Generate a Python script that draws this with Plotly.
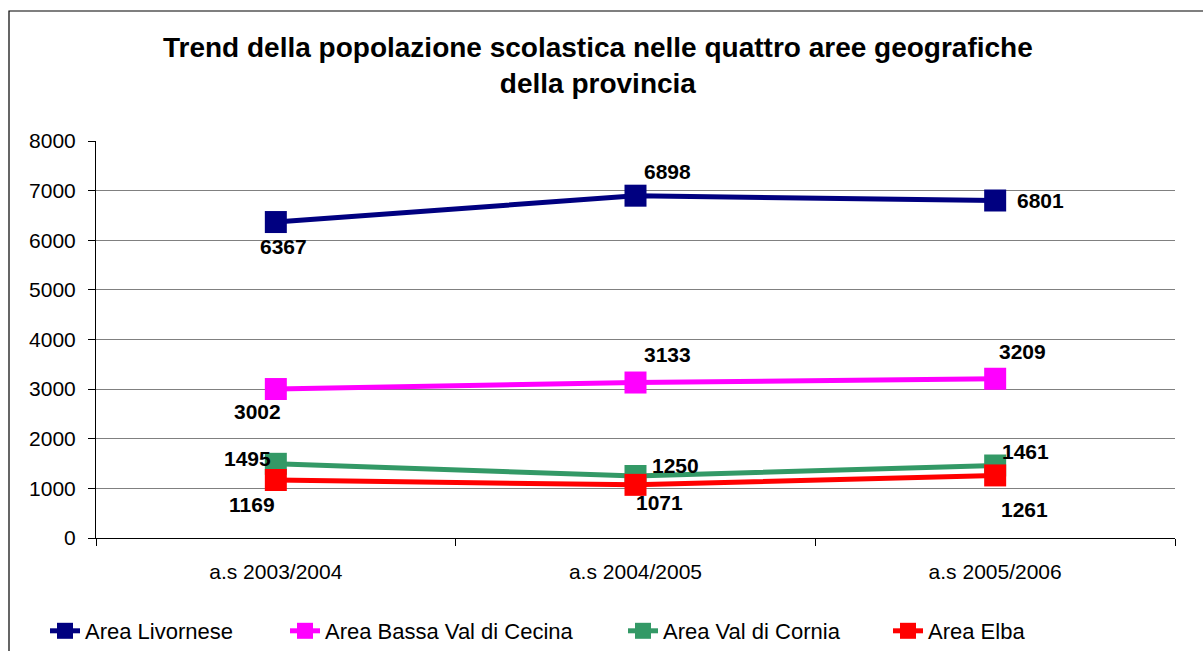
import plotly.graph_objects as go

categories = ["a.s 2003/2004", "a.s 2004/2005", "a.s 2005/2006"]
series_names = ["Area Livornese", "Area Bassa Val di Cecina", "Area Val di Cornia", "Area Elba"]
livornese = [6367, 6898, 6801]
bassa_val_cecina = [3002, 3133, 3209]
val_cornia = [1495, 1250, 1461]
elba = [1169, 1071, 1261]
y_ticks = [0, 1000, 2000, 3000, 4000, 5000, 6000, 7000, 8000]

series_values = [livornese, bassa_val_cecina, val_cornia, elba]
colors = ["#000080", "#FF00FF", "#339966", "#FF0000"]

# label offsets (px) per series per point
offsets = [
    [(8, -24), (32, 24), (45, 0)],
    [(-18, -22), (32, 28), (27, 27)],
    [(-28, 5), (40, 10), (30, 14)],
    [(-24, -25), (24, -18), (29, -34)],
]
# left positions (px) of each legend entry
legend_x_px = [45, 285, 623, 888]

FONT = "Liberation Sans, Arial, sans-serif"
W, H = 1203, 651

fig = go.Figure()
legend_ids = ["legend", "legend2", "legend3", "legend4"]
for name, vals, col, lid in zip(series_names, series_values, colors, legend_ids):
    fig.add_trace(go.Scatter(
        x=categories, y=vals, name=name, mode="lines+markers",
        line=dict(color=col, width=5),
        marker=dict(symbol="square", size=22, color=col),
        legend=lid,
    ))

annotations = []
for vals, offs in zip(series_values, offsets):
    for cat, v, (dx, dy) in zip(categories, vals, offs):
        annotations.append(dict(
            x=cat, y=v, xref="x", yref="y", text=f"<b>{v}</b>",
            showarrow=False, xshift=dx, yshift=dy,
            font=dict(family=FONT, size=21, color="black"),
        ))

legend_common = dict(
    orientation="h", xanchor="left", xref="container",
    y=(H - 631) / H, yanchor="middle", yref="container",
    font=dict(family=FONT, size=22, color="black"),
    bgcolor="rgba(0,0,0,0)",
)
legends = {}
for lid, lx in zip(legend_ids, legend_x_px):
    legends[lid] = dict(legend_common, x=lx / W)

fig.update_layout(
    width=W, height=H,
    paper_bgcolor="white", plot_bgcolor="white",
    margin=dict(l=96, r=28, t=141, b=113),
    title=dict(
        text="<b>Trend della popolazione scolastica nelle quattro aree geografiche<br>della provincia</b>",
        x=0.497, xanchor="center", y=(H - 57) / H, yanchor="middle",
        font=dict(family=FONT, size=28, color="black"),
    ),
    font=dict(family=FONT, size=21, color="black"),
    showlegend=True,
    annotations=annotations,
    shapes=[dict(type="rect", xref="paper", yref="paper",
                 x0=(9 - 96) / 1079, x1=(1215 - 96) / 1079,
                 y0=(538 - 670) / 397, y1=(538 - 11) / 397,
                 line=dict(color="black", width=1.2), fillcolor="rgba(0,0,0,0)", layer="below")],
    **legends,
)

fig.update_xaxes(
    type="category", tickson="boundaries", ticks="outside", ticklen=7,
    tickcolor="black", showline=True, linecolor="black", linewidth=1,
    showgrid=False, tickfont=dict(family=FONT, size=21, color="black"),
    range=[-0.5, 2.5], ticklabelstandoff=15,
)
fig.update_yaxes(
    range=[0, 8000], tickvals=y_ticks, ticks="outside", ticklen=7,
    tickcolor="black", showline=True, linecolor="black", linewidth=1,
    showgrid=True, gridcolor="#808080", gridwidth=1, zeroline=False,
    tickfont=dict(family=FONT, size=21, color="black"), ticklabelstandoff=8,
)

fig.write_html(
    "out.html",
    config={"displayModeBar": False},
    post_script="document.body.style.margin='0';document.body.style.overflow='hidden';",
)
